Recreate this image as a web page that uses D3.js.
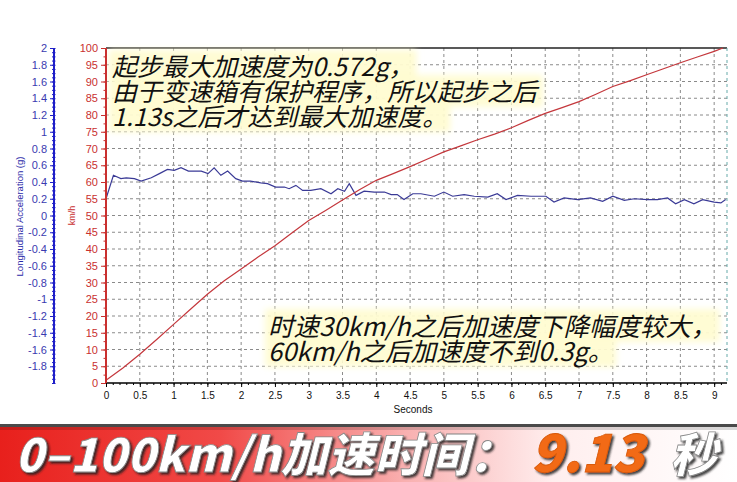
<!DOCTYPE html>
<html><head><meta charset="utf-8">
<script src="https://cdn.jsdelivr.net/npm/d3@7"></script>
<style>
body{margin:0;background:#fff;}
svg{display:block;}
</style></head>
<body>
<svg id="c" width="737" height="482"></svg>
<script>
// ---- data ----
const speedTime = [0, 0.25, 0.5, 0.75, 1, 1.25, 1.5, 1.75, 2, 2.25, 2.5, 2.75, 3, 3.25, 3.5, 3.75, 4, 4.25, 4.5, 4.75, 5, 5.25, 5.5, 5.75, 6, 6.25, 6.5, 6.75, 7, 7.25, 7.5, 7.75, 8, 8.25, 8.5, 8.75, 9, 9.13];
const speedKmh  = [0.8, 4.5, 8.6, 13, 17.5, 22, 26.5, 30.5, 34, 37.6, 41, 44.8, 48.5, 51.5, 54.6, 57.7, 60.5, 62.5, 64.6, 66.8, 69, 70.8, 72.6, 74.3, 76.2, 78.4, 80.5, 82.2, 84, 86.2, 88.5, 90.2, 92, 93.8, 95.6, 97.3, 99, 100];
const accelTime = [0, 0.11, 0.22, 0.30, 0.42, 0.52, 0.67, 0.79, 0.91, 1.01, 1.11, 1.22, 1.41, 1.51, 1.60, 1.70, 1.80, 1.92, 2.02, 2.14, 2.29, 2.39, 2.51, 2.64, 2.71, 2.81, 2.91, 3.03, 3.18, 3.33, 3.43, 3.53, 3.60, 3.70, 3.82, 3.97, 4.12, 4.22, 4.31, 4.41, 4.54, 4.66, 4.86, 5.00, 5.13, 5.30, 5.45, 5.65, 5.79, 5.92, 6.09, 6.29, 6.51, 6.63, 6.78, 6.98, 7.17, 7.35, 7.50, 7.67, 7.82, 8.01, 8.16, 8.31, 8.43, 8.56, 8.70, 8.83, 9.00, 9.10, 9.17];
const accelG    = [0.20, 0.48, 0.44, 0.45, 0.44, 0.41, 0.45, 0.50, 0.55, 0.54, 0.57, 0.53, 0.53, 0.50, 0.57, 0.48, 0.53, 0.44, 0.41, 0.41, 0.39, 0.38, 0.34, 0.34, 0.32, 0.36, 0.30, 0.30, 0.32, 0.26, 0.32, 0.29, 0.38, 0.24, 0.29, 0.28, 0.28, 0.25, 0.25, 0.19, 0.26, 0.26, 0.23, 0.28, 0.23, 0.25, 0.23, 0.22, 0.26, 0.19, 0.24, 0.23, 0.23, 0.16, 0.21, 0.19, 0.21, 0.17, 0.23, 0.18, 0.20, 0.19, 0.19, 0.21, 0.14, 0.19, 0.14, 0.19, 0.16, 0.15, 0.19];
const secondTicks = [0,0.5,1,1.5,2,2.5,3,3.5,4,4.5,5,5.5,6,6.5,7,7.5,8,8.5,9];
const speedTicks = [0,5,10,15,20,25,30,35,40,45,50,55,60,65,70,75,80,85,90,95,100];
const accelTicks = [-1.8,-1.6,-1.4,-1.2,-1,-0.8,-0.6,-0.4,-0.2,0,0.2,0.4,0.6,0.8,1,1.2,1.4,1.6,1.8,2];
const noteTop = ["起步最大加速度为0.572g，", "由于变速箱有保护程序，所以起步之后", "1.13s之后才达到最大加速度。"];
const noteBottom = ["时速30km/h之后加速度下降幅度较大，", "60km/h之后加速度不到0.3g。"];
const bannerParts = [{t:"0–100km/h加速时间：", c:"#ffffff", x:15, s:47}, {t:"9.13", c:"#f26a12", x:531, s:52}, {t:"秒", c:"#ffffff", x:670, s:47}];

// ---- layout ----
const svg = d3.select("#c");
const L = 106, R = 727, T = 48, B = 383;
const x = d3.scaleLinear().domain([0, 9.19]).range([L, R]);
const yS = d3.scaleLinear().domain([0, 100]).range([B, T]);
const yA = d3.scaleLinear().domain([-2, 2]).range([B, T]);
const FONT = "'Liberation Sans', Arial, sans-serif";

const defs = svg.append("defs");
const glow = defs.append("filter").attr("id","glow").attr("x","-10%").attr("y","-40%").attr("width","120%").attr("height","180%");
glow.append("feGaussianBlur").attr("stdDeviation", 3);
const sh = defs.append("filter").attr("id","sh").attr("x","-10%").attr("y","-30%").attr("width","120%").attr("height","160%");
sh.append("feDropShadow").attr("dx",2).attr("dy",2).attr("stdDeviation",1.2).attr("flood-color","#222").attr("flood-opacity",0.85);
const grad = defs.append("linearGradient").attr("id","bg").attr("x1","0").attr("x2","1").attr("y1","0").attr("y2","0");
grad.append("stop").attr("offset","0").attr("stop-color","#e8201c");
grad.append("stop").attr("offset","0.3").attr("stop-color","#f14a48");
grad.append("stop").attr("offset","0.55").attr("stop-color","#f9b0b0");
grad.append("stop").attr("offset","0.75").attr("stop-color","#ffeeee");
grad.append("stop").attr("offset","1").attr("stop-color","#ffffff");

// grid
const grid = svg.append("g");
grid.selectAll("line.h").data(speedTicks.filter(d=>d>0&&d<100)).join("line")
  .attr("x1",L).attr("x2",R).attr("y1",d=>yS(d)).attr("y2",d=>yS(d))
  .attr("stroke","#8a8a8a").attr("stroke-dasharray","3,3").attr("stroke-width",1);
grid.selectAll("line.v").data(secondTicks.filter(d=>d>0)).join("line")
  .attr("y1",T).attr("y2",B).attr("x1",d=>x(d)).attr("x2",d=>x(d))
  .attr("stroke","#8a8a8a").attr("stroke-dasharray","3,3").attr("stroke-width",1);
svg.append("line").attr("x1",L).attr("x2",R).attr("y1",T).attr("y2",T).attr("stroke","#222").attr("stroke-width",1.5);
svg.append("line").attr("x1",R).attr("x2",R).attr("y1",T).attr("y2",B).attr("stroke","#6aa").attr("stroke-dasharray","3,3");

// lines
svg.append("path").datum(accelTime.map((t,i)=>[t,accelG[i]]))
  .attr("fill","none").attr("stroke","#3a3a96").attr("stroke-width",1.2)
  .attr("d", d3.line().x(d=>x(d[0])).y(d=>yA(d[1])));
svg.append("path").datum(speedTime.map((t,i)=>[t,speedKmh[i]]))
  .attr("fill","none").attr("stroke","#c4373c").attr("stroke-width",1.2)
  .attr("d", d3.line().x(d=>x(d[0])).y(d=>yS(d[1])));

// annotation text with soft pale-yellow backing
function note(lines, x0, y0, size, pitch){
  const bg = svg.append("g").attr("filter","url(#glow)");
  const g = svg.append("g");
  lines.forEach((s,i)=>{
    const t = g.append("text").attr("x",x0).attr("y",y0+i*pitch).text(s)
      .attr("font-family","'Noto Sans CJK SC', sans-serif").attr("font-size",size).attr("font-style","italic")
      .attr("fill","#111");
    const b = t.node().getBBox();
    bg.append("rect").attr("x",b.x-3).attr("y",b.y+3).attr("width",b.width+6).attr("height",b.height-4)
      .attr("fill","#fffcd2").attr("opacity",0.95);
  });
}
note(noteTop, 112, 76, 25, 25);
note(noteBottom, 268, 336, 25.5, 25);

// x axis
const xAxis = svg.append("g").attr("transform",`translate(0,${B})`)
  .call(d3.axisBottom(x).tickValues(secondTicks).tickSize(4).tickPadding(5).tickFormat(d3.format("~g")));
const xMinor = svg.append("g").attr("transform",`translate(0,${B})`)
  .call(d3.axisBottom(x).tickValues(d3.range(0,92).map(i=>i/10)).tickSize(2).tickFormat(""));
xMinor.select(".domain").remove();
xAxis.select(".domain").attr("d",`M${L},0H${R}`).attr("stroke","#000").attr("stroke-width",1.5);
xAxis.selectAll("text").attr("font-family",FONT).attr("font-size",10).attr("fill","#111");
svg.append("text").attr("x",413).attr("y",413).attr("text-anchor","middle").text("Seconds")
  .attr("font-family",FONT).attr("font-size",10).attr("fill","#111");

// speed axis (red)
const red = "#c9302f";
const sAxis = svg.append("g").attr("transform",`translate(${L},0)`)
  .call(d3.axisLeft(yS).tickValues(speedTicks).tickSize(5).tickPadding(3));
sAxis.select(".domain").attr("d",`M0,${T}V${B}`).attr("stroke",red).attr("stroke-width",2);
sAxis.selectAll(".tick line").attr("stroke",red);
sAxis.selectAll("text").attr("font-family",FONT).attr("font-size",11).attr("fill",red);
const sMinor = svg.append("g").attr("transform",`translate(${L},0)`)
  .call(d3.axisLeft(yS).tickValues(d3.range(0,101,2.5)).tickSize(2.5).tickFormat(""));
sMinor.select(".domain").remove();
sMinor.selectAll("line").attr("stroke",red);
svg.append("text").attr("transform",`translate(75,${(T+B)/2}) rotate(-90)`).attr("text-anchor","middle")
  .text("km/h").attr("font-family",FONT).attr("font-size",9).attr("fill",red);

// accel axis (blue)
const blue = "#1f1fc8";
const AX = 54;
const aAxis = svg.append("g").attr("transform",`translate(${AX},0)`)
  .call(d3.axisLeft(yA).tickValues(accelTicks).tickSize(4).tickPadding(3).tickFormat(d3.format("~g")));
aAxis.select(".domain").attr("d",`M0,${T}V${B}`).attr("stroke",blue).attr("stroke-width",2);
aAxis.selectAll(".tick line").attr("stroke",blue);
aAxis.selectAll("text").attr("font-family",FONT).attr("font-size",11).attr("fill","#3a3ab0").text(d=>String(d));
const aMinor = svg.append("g").attr("transform",`translate(${AX+1.5},0)`)
  .call(d3.axisLeft(yA).tickValues(d3.range(-40,41).map(i=>i/20)).tickSize(3.5).tickFormat(""));
aMinor.select(".domain").remove();
aMinor.selectAll("line").attr("stroke",blue);
svg.append("text").attr("transform",`translate(23,${(T+B)/2+1}) rotate(-90)`).attr("text-anchor","middle")
  .text("Longitudinal Acceleration (g)").attr("font-family",FONT).attr("font-size",9.5).attr("fill","#2a2aa8");

// banner
svg.append("rect").attr("x",0).attr("y",426).attr("width",737).attr("height",56).attr("fill","url(#bg)");
svg.append("rect").attr("x",0).attr("y",424).attr("width",737).attr("height",3).attr("fill","#4a4a4a");
svg.append("rect").attr("x",0).attr("y",427).attr("width",737).attr("height",3).attr("fill","#000").attr("opacity",0.15);
svg.append("g").attr("filter","url(#sh)").selectAll("text").data(bannerParts).join("text")
  .attr("x",d=>d.x).attr("y",472).text(d=>d.t)
  .attr("font-family","'Noto Sans CJK SC', sans-serif").attr("font-weight",900).attr("font-style","italic")
  .attr("font-size",d=>d.s).attr("fill",d=>d.c)
  .attr("stroke",d=>d.c==="#ffffff"?"#888":"#d85a10").attr("stroke-width",0.8);
</script>
</body></html>
